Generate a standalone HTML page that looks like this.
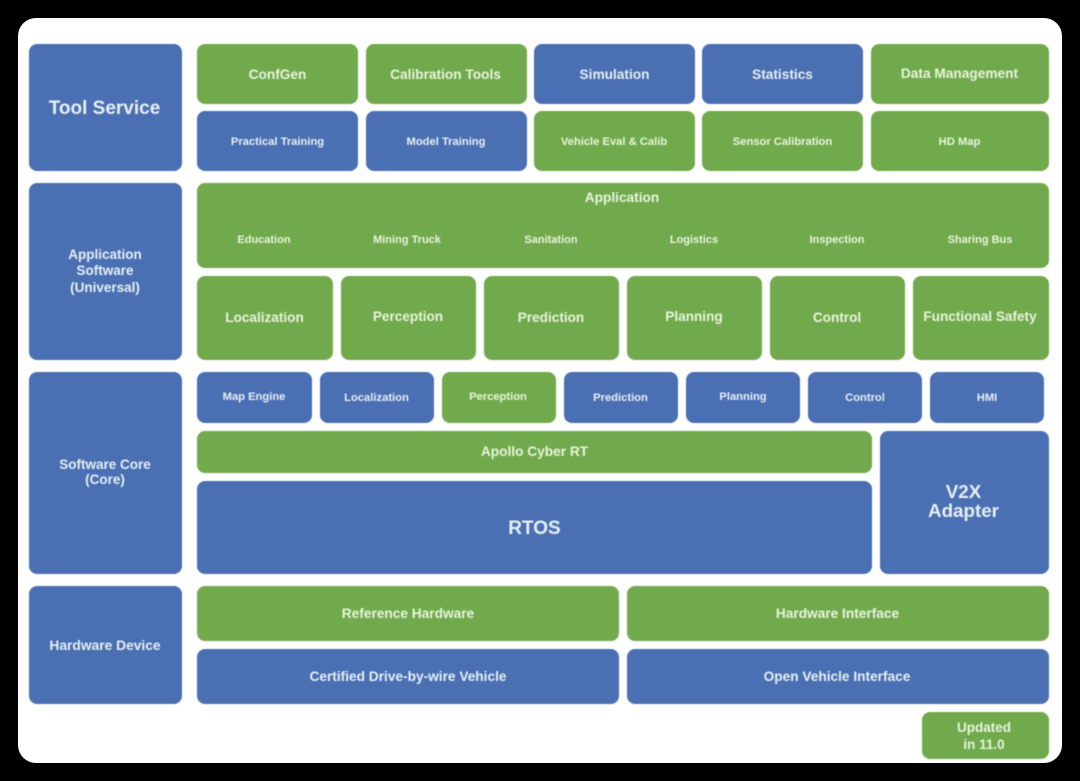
<!DOCTYPE html>
<html><head><meta charset="utf-8"><style>
html,body{margin:0;padding:0;width:1080px;height:781px;background:#000;overflow:hidden}
#p{position:absolute;left:18px;top:18px;width:1044px;height:745px;background:#fff;border-radius:18px}
.b{position:absolute;box-sizing:border-box;border-radius:8px;color:#e6f0f4;font-family:"Liberation Sans",sans-serif;font-weight:bold;text-align:center;display:flex;align-items:center;justify-content:center;line-height:1.15;filter:blur(.4px)}
.u{background:#4a6fb3}.g{background:#71aa4c;color:#e8f4dc}
.t{position:absolute;color:#e8f4dc;font-family:"Liberation Sans",sans-serif;font-weight:bold;font-size:11px;text-align:center;width:120px;filter:blur(.4px)}
</style></head><body><div id="p"></div>
<div class="b u" style="left:29px;top:44px;width:153px;height:127px;font-size:19px;padding-top:2px;padding-right:2px">Tool Service</div>
<div class="b g" style="left:197px;top:44px;width:161px;height:60px;font-size:13.7px;padding-top:2px">ConfGen</div>
<div class="b g" style="left:366px;top:44px;width:161px;height:60px;font-size:13.7px;padding-top:2px;padding-right:2px">Calibration Tools</div>
<div class="b u" style="left:534px;top:44px;width:161px;height:60px;font-size:13.7px;padding-top:2px">Simulation</div>
<div class="b u" style="left:702px;top:44px;width:161px;height:60px;font-size:13.7px;padding-top:2px">Statistics</div>
<div class="b g" style="left:871px;top:44px;width:178px;height:60px;font-size:13.7px;padding-bottom:1px;padding-right:1px">Data Management</div>
<div class="b u" style="left:197px;top:111px;width:161px;height:60px;font-size:11.2px;padding-top:2px">Practical Training</div>
<div class="b u" style="left:366px;top:111px;width:161px;height:60px;font-size:11.2px;padding-top:2px;padding-right:1px">Model Training</div>
<div class="b g" style="left:534px;top:111px;width:161px;height:60px;font-size:11.2px;padding-top:2px;padding-right:1px">Vehicle Eval &amp; Calib</div>
<div class="b g" style="left:702px;top:111px;width:161px;height:60px;font-size:11.2px;padding-top:2px">Sensor Calibration</div>
<div class="b g" style="left:871px;top:111px;width:178px;height:60px;font-size:11.2px;padding-top:2px;padding-right:1px">HD Map</div>

<div class="b u" style="left:29px;top:183px;width:153px;height:177px;font-size:13.5px;line-height:16.5px;padding-right:1px">Application<br>Software<br>(Universal)</div>
<div class="b g" style="left:197px;top:183px;width:852px;height:85px"></div>
<div class="t" style="left:562px;top:190px;font-size:13.7px;">Application</div>
<div class="t" style="left:204px;top:234px">Education</div>
<div class="t" style="left:347px;top:234px">Mining Truck</div>
<div class="t" style="left:491px;top:234px">Sanitation</div>
<div class="t" style="left:634px;top:234px">Logistics</div>
<div class="t" style="left:777px;top:234px">Inspection</div>
<div class="t" style="left:920px;top:234px">Sharing Bus</div>
<div class="b g" style="left:197px;top:276px;width:136px;height:84px;font-size:13.6px;padding-right:1px">Localization</div>
<div class="b g" style="left:341px;top:276px;width:135px;height:84px;font-size:13.6px;padding-bottom:3px;padding-right:1px">Perception</div>
<div class="b g" style="left:484px;top:276px;width:135px;height:84px;font-size:13.6px;padding-right:1px">Prediction</div>
<div class="b g" style="left:627px;top:276px;width:135px;height:84px;font-size:13.6px;padding-bottom:3px;padding-right:1px">Planning</div>
<div class="b g" style="left:770px;top:276px;width:135px;height:84px;font-size:13.6px;padding-right:1px">Control</div>
<div class="b g" style="left:913px;top:276px;width:136px;height:84px;font-size:13.6px;padding-bottom:3px;padding-right:2px">Functional Safety</div>

<div class="b u" style="left:29px;top:372px;width:153px;height:202px;font-size:13.5px;line-height:15px;padding-bottom:3px;padding-right:1px">Software Core<br>(Core)</div>
<div class="b u" style="left:197px;top:372px;width:115px;height:51px;font-size:11.2px;padding-right:1px">Map Engine</div>
<div class="b u" style="left:320px;top:372px;width:114px;height:51px;font-size:11.2px;padding-top:2px;padding-right:1px">Localization</div>
<div class="b g" style="left:442px;top:372px;width:114px;height:51px;font-size:11.2px;padding-right:2px">Perception</div>
<div class="b u" style="left:564px;top:372px;width:114px;height:51px;font-size:11.2px;padding-top:2px;padding-right:1px">Prediction</div>
<div class="b u" style="left:686px;top:372px;width:114px;height:51px;font-size:11.2px">Planning</div>
<div class="b u" style="left:808px;top:372px;width:114px;height:51px;font-size:11.2px;padding-top:2px">Control</div>
<div class="b u" style="left:930px;top:372px;width:114px;height:51px;font-size:11.2px;padding-top:2px">HMI</div>
<div class="b g" style="left:197px;top:431px;width:675px;height:42px;font-size:13.7px">Apollo Cyber RT</div>
<div class="b u" style="left:197px;top:481px;width:675px;height:93px;font-size:19px;padding-top:2px">RTOS</div>
<div class="b u" style="left:880px;top:431px;width:169px;height:143px;font-size:18.8px;line-height:19px;padding-bottom:4px;padding-right:2px">V2X<br>Adapter</div>

<div class="b u" style="left:29px;top:586px;width:153px;height:118px;font-size:13.8px;padding-right:1px;padding-top:1px">Hardware Device</div>
<div class="b g" style="left:197px;top:586px;width:422px;height:55px;font-size:13.7px">Reference Hardware</div>
<div class="b g" style="left:627px;top:586px;width:422px;height:55px;font-size:13.7px;padding-right:1px">Hardware Interface</div>
<div class="b u" style="left:197px;top:649px;width:422px;height:55px;font-size:13.7px">Certified Drive-by-wire Vehicle</div>
<div class="b u" style="left:627px;top:649px;width:422px;height:55px;font-size:13.7px;padding-right:2px">Open Vehicle Interface</div>
<div class="b g" style="left:922px;top:712px;width:127px;height:47px;font-size:13.5px;line-height:17px;padding-right:3px">Updated<br>in 11.0</div>
</body></html>
